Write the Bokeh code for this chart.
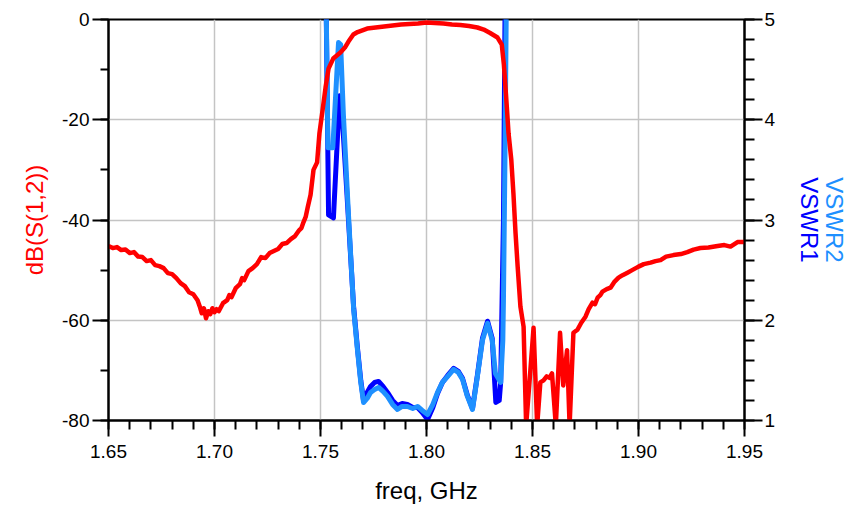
from bokeh.plotting import figure
from bokeh.models import (Range1d, LinearAxis, FixedTicker, PrintfTickFormatter)
from bokeh.embed import file_html
from bokeh.resources import INLINE

# ---------------- data ----------------
red_f = [1.650, 1.652, 1.654, 1.656, 1.658, 1.660, 1.662, 1.664, 1.666, 1.668,
         1.670, 1.672, 1.674, 1.676, 1.678, 1.680, 1.682, 1.684, 1.686, 1.688,
         1.690, 1.692, 1.693, 1.694, 1.695, 1.696, 1.697, 1.698, 1.699, 1.700,
         1.701, 1.702, 1.704, 1.706, 1.707, 1.708, 1.710, 1.712, 1.713, 1.714,
         1.716, 1.718, 1.720, 1.722, 1.724, 1.726, 1.728, 1.730, 1.732, 1.734,
         1.736, 1.738, 1.740, 1.741, 1.742, 1.743, 1.744, 1.7453, 1.7467, 1.7484,
         1.7495, 1.751, 1.7524, 1.7538, 1.756, 1.7594, 1.7615, 1.7632, 1.7655, 1.7675,
         1.772, 1.776, 1.780, 1.784, 1.788, 1.792, 1.796, 1.800, 1.804, 1.808,
         1.812, 1.816, 1.820, 1.824, 1.827, 1.830, 1.8335, 1.8355, 1.8365, 1.8375,
         1.8387, 1.8400, 1.8410, 1.8420, 1.8430, 1.8443, 1.8458, 1.8470, 1.8490, 1.8505,
         1.8522, 1.8537, 1.8552, 1.8567, 1.8580, 1.8592, 1.8610, 1.8630, 1.8645, 1.8663,
         1.8675, 1.8693, 1.8712, 1.8730, 1.8750, 1.8765, 1.8783, 1.8795, 1.8807, 1.8820,
         1.8830, 1.8850, 1.8868, 1.8885, 1.8906, 1.8925, 1.8948, 1.8970, 1.9000, 1.9025,
         1.9057, 1.9080, 1.9104, 1.9130, 1.9165, 1.9200, 1.9230, 1.9260, 1.9292, 1.9330,
         1.9373, 1.9405, 1.9434, 1.9467, 1.9500]
red_db = [-45.2, -45.6, -45.4, -46.0, -45.9, -46.6, -46.4, -47.3, -47.4, -48.2,
          -48.0, -49.0, -49.2, -49.6, -50.6, -50.8, -51.6, -52.6, -53.2, -54.4,
          -54.8, -56.0, -57.2, -58.6, -57.6, -59.6, -58.2, -58.8, -57.6, -58.4,
          -57.8, -58.2, -56.6, -56.0, -55.0, -55.4, -53.6, -52.8, -51.6, -52.0,
          -50.2, -49.6, -48.8, -47.4, -47.6, -46.6, -46.2, -45.8, -44.8, -44.6,
          -43.8, -43.2, -42.0, -41.6, -40.4, -39.4, -37.4, -35.0, -30.0, -28.5,
          -22.7, -18.0, -13.5, -9.8, -7.8, -6.6, -5.6, -4.4, -3.0, -2.5,
          -1.8, -1.6, -1.4, -1.2, -1.0, -0.9, -0.8, -0.6, -0.7, -0.8,
          -1.0, -1.1, -1.3, -1.6, -2.0, -2.7, -3.6, -5.0, -9.0, -15.0,
          -22.7, -28.0, -34.7, -42.6, -49.3, -57.3, -61.3, -81.0, -70.0, -61.5,
          -81.0, -72.4, -72.0, -71.2, -71.5, -70.6, -81.0, -62.5, -73.0, -66.0,
          -81.0, -62.5, -61.9, -60.5, -59.3, -57.8, -56.5, -56.8, -55.5, -55.0,
          -54.3, -53.8, -53.5, -52.4, -51.5, -51.0, -50.5, -50.0, -49.3, -48.8,
          -48.5, -48.2, -48.0, -47.3, -47.0, -46.8, -46.4, -45.9, -45.6, -45.5,
          -45.2, -45.0, -45.3, -44.4, -44.4]

vswr2_f = [1.748, 1.7522, 1.7535, 1.7558, 1.7585, 1.7595, 1.7608, 1.7632, 1.7656, 1.7674,
           1.7690, 1.7703, 1.7720, 1.7736, 1.7755, 1.7774, 1.7795, 1.7816, 1.7840, 1.7863,
           1.7885, 1.7910, 1.7935, 1.7958, 1.7980, 1.8005, 1.8030, 1.8052, 1.8075, 1.8100,
           1.8128, 1.8150, 1.8170, 1.8193, 1.8217, 1.8240, 1.8264, 1.8288, 1.8310, 1.8325,
           1.8350, 1.8360, 1.8363, 1.8370, 1.8378, 1.8400]
vswr2 = [14.0, 6.0, 3.72, 3.72, 4.77, 4.75, 4.05, 3.05, 2.12, 1.71,
         1.38, 1.18, 1.22, 1.28, 1.31, 1.33, 1.29, 1.24, 1.16, 1.11,
         1.14, 1.14, 1.12, 1.14, 1.10, 1.06, 1.16, 1.28, 1.38, 1.44,
         1.51, 1.48, 1.41, 1.24, 1.11, 1.44, 1.80, 1.97, 1.80, 1.47,
         1.38, 1.80, 2.20, 3.60, 5.50, 12.0]

vswr1_f = [1.748, 1.7522, 1.7538, 1.7561, 1.7590, 1.7605, 1.7625, 1.7656, 1.7674, 1.7690,
           1.7703, 1.7720, 1.7736, 1.7755, 1.7774, 1.7795, 1.7816, 1.7840, 1.7863, 1.7885,
           1.7910, 1.7935, 1.7958, 1.7980, 1.8005, 1.8030, 1.8052, 1.8075, 1.8100, 1.8128,
           1.8150, 1.8170, 1.8193, 1.8217, 1.8240, 1.8264, 1.8288, 1.8310, 1.8327, 1.8343,
           1.8350, 1.8363, 1.8372, 1.8400]
vswr1 = [14.0, 6.0, 3.05, 3.02, 4.24, 3.95, 3.25, 2.14, 1.73, 1.40,
         1.20, 1.28, 1.34, 1.38, 1.39, 1.34, 1.28, 1.20, 1.15, 1.17,
         1.16, 1.13, 1.13, 1.08, 1.01, 1.13, 1.27, 1.38, 1.45, 1.52,
         1.49, 1.42, 1.25, 1.12, 1.45, 1.82, 1.99, 1.82, 1.18, 1.20,
         1.38, 3.00, 5.50, 12.0]

x_ticks = [1.65, 1.70, 1.75, 1.80, 1.85, 1.90, 1.95]
db_ticks = [-80, -60, -40, -20, 0]
vswr_ticks = [1, 2, 3, 4, 5]

FONT = "Liberation Sans"
RED = "#FF0000"
BLUE = "#0000FF"
LBLUE = "#1E90FF"

p = figure(width=854, height=506, output_backend="svg", toolbar_location=None,
           x_range=Range1d(1.65, 1.95), y_range=Range1d(-80, 0),
           min_border_left=108, min_border_right=110, min_border_top=19,
           min_border_bottom=85)
p.extra_y_ranges = {"vswr": Range1d(1, 5)}
p.background_fill_color = "white"
p.border_fill_color = "white"
p.outline_line_color = "black"
p.outline_line_width = 2

# grids
for g in (p.xgrid, p.ygrid):
    g.grid_line_color = "#C4C4C4"
    g.grid_line_width = 1.5

# minor tick positions (subdivisions of the major tick intervals)
x_minor = [round(x_ticks[0] + i * 0.01, 3) for i in range(31)]
db_minor = [db_ticks[0] + i * 10 for i in range(9)]
vswr_minor = [round(vswr_ticks[0] + i * 0.2, 2) for i in range(21)]

# x axis
xa = p.xaxis[0]
xa.ticker = FixedTicker(ticks=x_ticks, minor_ticks=x_minor)
xa.formatter = PrintfTickFormatter(format="%.2f")
xa.axis_label = "freq, GHz"
xa.major_tick_out = 16
xa.major_tick_in = 0
xa.minor_tick_out = 9
xa.minor_tick_in = 0
xa.major_label_standoff = 8
xa.axis_label_standoff = 16
p.xgrid.ticker = FixedTicker(ticks=x_ticks)

# left axis
ya = p.yaxis[0]
ya.ticker = FixedTicker(ticks=db_ticks, minor_ticks=db_minor)
ya.formatter = PrintfTickFormatter(format="%d")
ya.axis_label = "dB(S(1,2))"
ya.axis_label_text_color = RED
ya.major_tick_out = 16
ya.major_tick_in = 0
ya.minor_tick_out = 8
ya.minor_tick_in = 0
ya.major_label_standoff = 3
ya.axis_label_standoff = 11
p.ygrid.ticker = FixedTicker(ticks=db_ticks)

# right axes
ra = LinearAxis(y_range_name="vswr",
                ticker=FixedTicker(ticks=vswr_ticks, minor_ticks=vswr_minor),
                formatter=PrintfTickFormatter(format="%d"),
                axis_label="VSWR1")
ra.axis_label_text_color = BLUE
ra.major_tick_out = 18
ra.major_tick_in = 0
ra.minor_tick_out = 10
ra.minor_tick_in = 0
ra.major_label_standoff = 2
ra.axis_label_standoff = 18
p.add_layout(ra, "right")

ra2 = LinearAxis(y_range_name="vswr", ticker=FixedTicker(ticks=[]),
                 axis_label="VSWR2")
ra2.axis_label_text_color = LBLUE
ra2.axis_line_color = None
ra2.major_tick_line_color = None
ra2.minor_tick_line_color = None
ra2.major_tick_out = 0
ra2.minor_tick_out = 0
ra2.major_label_standoff = 0
ra2.axis_label_standoff = -6
p.add_layout(ra2, "right")

for ax in (xa, ya, ra, ra2):
    ax.major_label_text_font = FONT
    ax.major_label_text_font_size = "19px"
    ax.major_label_text_color = "black"
    ax.axis_label_text_font = FONT
    ax.axis_label_text_font_size = "24px"
    ax.axis_label_text_font_style = "normal"
for ax in (xa, ya, ra):
    ax.axis_line_color = "black"
    ax.axis_line_width = 2
    ax.major_tick_line_color = "black"
    ax.major_tick_line_width = 2
    ax.minor_tick_line_color = "black"
    ax.minor_tick_line_width = 2
xa.axis_label_text_color = "black"

# curves
p.line(vswr1_f, vswr1, y_range_name="vswr", line_color=BLUE, line_width=5,
       line_join="round")
p.line(vswr2_f, vswr2, y_range_name="vswr", line_color=LBLUE, line_width=5,
       line_join="round")
p.line(red_f, red_db, line_color=RED, line_width=4.5, line_join="round")

open("out.html", "w").write(file_html(p, INLINE))
